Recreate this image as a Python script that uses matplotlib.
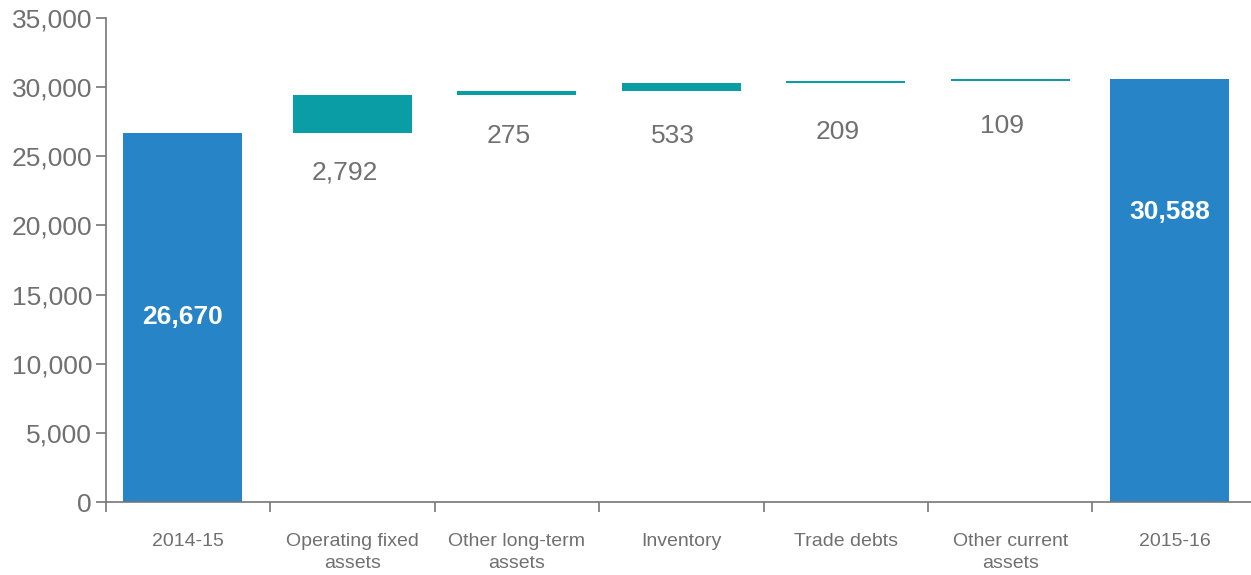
import numpy as np
import matplotlib.pyplot as plt
from matplotlib.ticker import FuncFormatter, FixedLocator

# waterfall data
categories = ["2014-15", "Operating fixed\nassets", "Other long-term\nassets",
              "Inventory", "Trade debts", "Other current\nassets", "2015-16"]
opening = 26670
changes = [2792, 275, 533, 209, 109]
closing = 30588
change_labels = ["2,792", "275", "533", "209", "109"]
change_label_y = [23300, 25960, 25960, 26250, 26680]
total_labels = ["26,670", "30,588"]
total_label_y = [13350, 21000]

blue = "#2784c7"
teal = "#0a9da6"
grey = "#707070"

plt.rcParams['font.family'] = ['Liberation Sans', 'DejaVu Sans']

fig = plt.figure(figsize=(12.51, 5.75), dpi=100)
ax = fig.add_axes([106 / 1251, 73 / 575, 1145 / 1251, 484 / 575])

x = np.arange(len(categories))
width = 0.724
total_shift = -0.032  # total bars sit slightly left of their slot

# totals
tx = np.array([x[0], x[-1]]) + total_shift
ax.bar(tx, [opening, closing], width=width, color=blue)

# floating changes
bottoms = opening + np.concatenate([[0], np.cumsum(changes)[:-1]])
ax.bar(x[1:-1], changes, bottom=bottoms, width=width, color=teal)

for xi, yv, lab in zip(x[1:-1], change_label_y, change_labels):
    ax.text(xi - 0.05, yv, lab, ha="center", va="baseline", fontsize=19,
            color=grey)

for xi, yv, lab in zip(tx, total_label_y, total_labels):
    ax.text(xi, yv, lab, ha="center", va="center", fontsize=19,
            fontweight="bold", color="white")

ax.set_xlim(-0.5, 6.465)
ax.set_ylim(0, 35000)
ax.set_yticks(np.arange(0, 35001, 5000))
ax.yaxis.set_major_formatter(FuncFormatter(lambda v, p: f"{int(v):,}"))

ax.set_xticks(x)
ax.set_xticklabels(categories, fontsize=14, color=grey, linespacing=1.45)
ax.xaxis.set_minor_locator(FixedLocator(np.arange(len(categories)) - 0.5))
ax.tick_params(axis="x", which="major", length=0, pad=22)
ax.tick_params(axis="x", which="minor", length=7, width=1.2, color="#777777")
ax.tick_params(axis="y", length=7, width=1.2, color="#777777", labelsize=19,
               labelcolor=grey, pad=3)

for s in ["top", "right"]:
    ax.spines[s].set_visible(False)
for s in ["left", "bottom"]:
    ax.spines[s].set_color("#777777")
    ax.spines[s].set_linewidth(1.2)

fig.savefig("out.png", dpi=100)
